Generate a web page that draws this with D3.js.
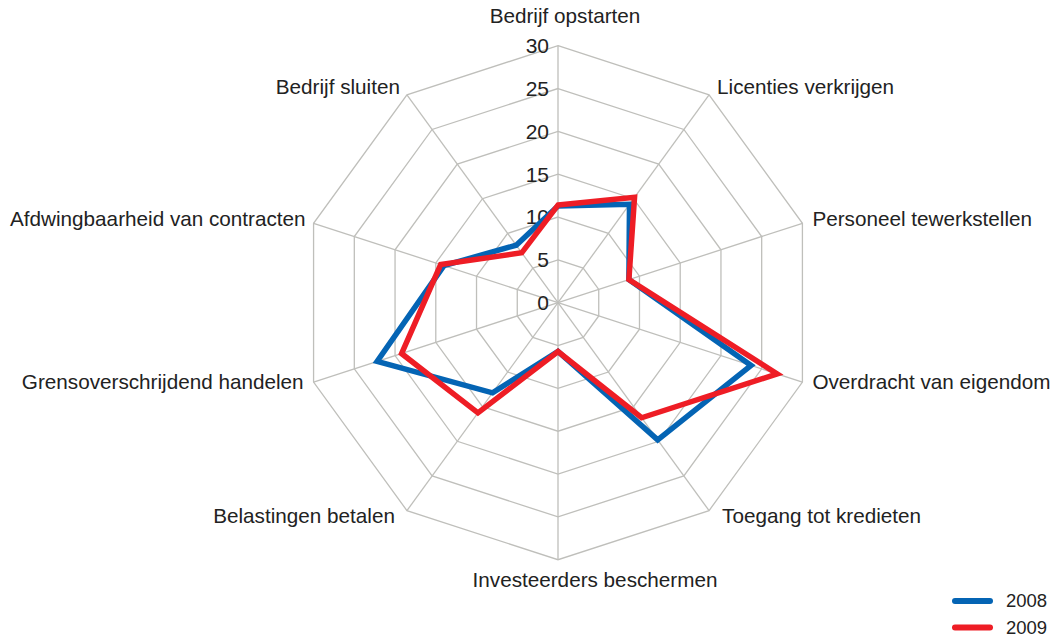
<!DOCTYPE html>
<html>
<head>
<meta charset="utf-8">
<script src="https://cdn.jsdelivr.net/npm/d3@7"></script>
<style>
  html, body { margin: 0; padding: 0; background: #fff; }
  svg { display: block; font-family: "Liberation Sans", Arial, sans-serif; }
</style>
</head>
<body>
<svg id="chart" width="1055" height="637"></svg>
<script>
const categories = [
  "Bedrijf opstarten",
  "Licenties verkrijgen",
  "Personeel tewerkstellen",
  "Overdracht van eigendom",
  "Toegang tot kredieten",
  "Investeerders beschermen",
  "Belastingen betalen",
  "Grensoverschrijdend handelen",
  "Afdwingbaarheid van contracten",
  "Bedrijf sluiten"
];
const values2008 = [11.3, 14.2, 8.7, 23.7, 19.8, 5.7, 13.0, 22.2, 14.0, 8.3];
const values2009 = [11.4, 15.2, 8.7, 26.9, 16.6, 5.7, 15.9, 19.2, 14.4, 7.2];
const tickValues = [0, 5, 10, 15, 20, 25, 30];
const seriesNames = ["2008", "2009"];

const colors = ["#0464b4", "#ee1d25"];
const cx = 558, cy = 302.7, R = 257;
const n = categories.length;
const svg = d3.select("#chart");
const g = svg.append("g").attr("transform", `translate(${cx},${cy})`);
const r = d3.scaleLinear().domain([0, 30]).range([0, R]);
const angle = i => i * 2 * Math.PI / n;
const pt = (i, v) => [r(v) * Math.sin(angle(i)), -r(v) * Math.cos(angle(i))];

// grid rings
const ringLine = d3.lineRadial().angle((d, i) => angle(i)).radius(d => r(d)).curve(d3.curveLinearClosed);
tickValues.filter(t => t > 0).forEach(t => {
  g.append("path").attr("d", ringLine(d3.range(n).map(() => t)))
    .attr("fill", "none").attr("stroke", "#bfbfbb").attr("stroke-width", 1.3);
});
// spokes
d3.range(n).forEach(i => {
  const [x, y] = pt(i, 30);
  g.append("line").attr("x1", 0).attr("y1", 0).attr("x2", x).attr("y2", y)
    .attr("stroke", "#bfbfbb").attr("stroke-width", 1.3);
});

// tick labels
tickValues.forEach(t => {
  g.append("text").attr("x", -9).attr("y", -r(t)).attr("dy", "0.35em")
    .attr("text-anchor", "end").attr("font-size", 21).attr("fill", "#222")
    .text(t);
});

// series
const seriesLine = d3.lineRadial().angle((d, i) => angle(i)).radius(d => r(d)).curve(d3.curveLinearClosed);
[values2008, values2009].forEach((vals, k) => {
  g.append("path").attr("d", seriesLine(vals))
    .attr("fill", "none").attr("stroke", colors[k]).attr("stroke-width", 5.5)
    .attr("stroke-linejoin", "miter");
});

// category labels (layout offsets)
const labelLayout = [
  {anchor: "middle", dx: 7, dy: -29.5},
  {anchor: "start", dx: 8, dy: -8},
  {anchor: "start", dx: 10, dy: -5},
  {anchor: "start", dx: 10, dy: 0},
  {anchor: "start", dx: 13, dy: 5},
  {anchor: "middle", dx: 37, dy: 20},
  {anchor: "end", dx: -12, dy: 5},
  {anchor: "end", dx: -10, dy: 0},
  {anchor: "end", dx: -8, dy: -5},
  {anchor: "end", dx: -7, dy: -8}
];
categories.forEach((c, i) => {
  const [x, y] = pt(i, 30);
  const L = labelLayout[i];
  g.append("text").attr("x", x + L.dx).attr("y", y + L.dy).attr("dy", "0.35em")
    .attr("text-anchor", L.anchor).attr("font-size", 20.7).attr("fill", "#222")
    .text(c);
});

// legend
const lg = svg.append("g").attr("transform", "translate(952,601)");
seriesNames.forEach((s, k) => {
  const row = lg.append("g").attr("transform", `translate(0,${k * 26.5})`);
  row.append("line").attr("x1", 3).attr("x2", 38).attr("y1", 0).attr("y2", 0)
    .attr("stroke", colors[k]).attr("stroke-width", 6).attr("stroke-linecap", "round");
  row.append("text").attr("x", 54).attr("y", 0).attr("dy", "0.35em")
    .attr("font-size", 18.5).attr("fill", "#222").text(s);
});
</script>
</body>
</html>
